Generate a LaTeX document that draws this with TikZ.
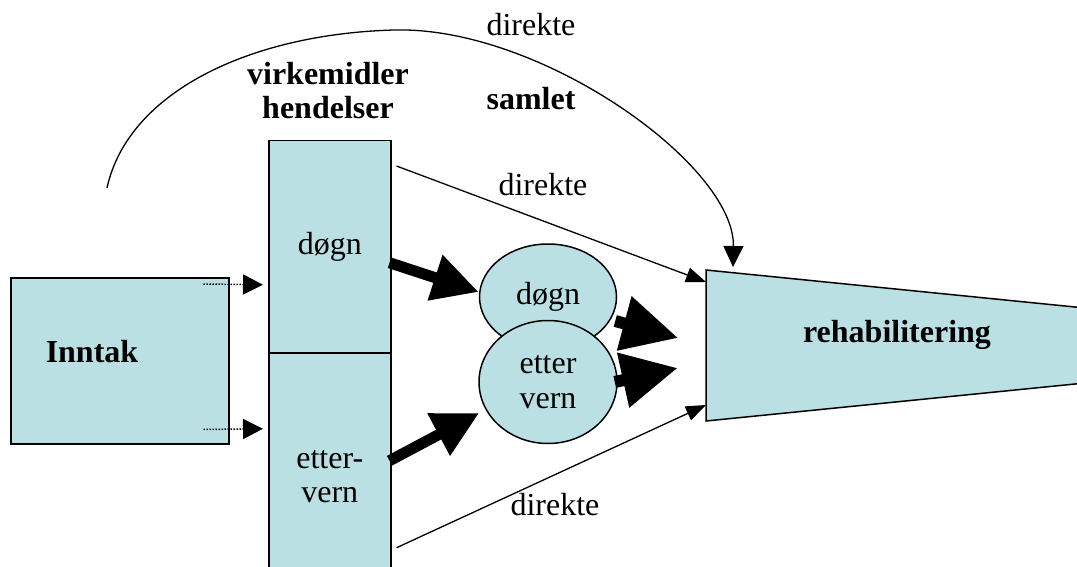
\documentclass[tikz,border=0pt]{standalone}
\usepackage{fontspec}
\setmainfont{LiberationSerif}[Extension=.ttf,UprightFont=*-Regular,BoldFont=*-Bold,ItalicFont=*-Italic,BoldItalicFont=*-BoldItalic]
\usetikzlibrary{arrows.meta,shapes.geometric,calc}
\definecolor{fillblue}{HTML}{BBE0E3}
\begin{document}
\begin{tikzpicture}[x=1pt,y=-1pt,
  box/.style={draw=black,line width=1.5pt,fill=fillblue,inner sep=0pt},
  lbl/.style={font=\fontsize{32}{34}\selectfont,align=center,inner sep=0pt},
  blbl/.style={font=\fontsize{32}{34}\selectfont\bfseries,align=center,inner sep=0pt},
  ell/.style={ellipse,draw=black,line width=1.5pt,fill=fillblue,inner sep=0pt,align=center,font=\fontsize{32}{35}\selectfont},
  thinarrow/.style={line width=1.3pt,-{Triangle[length=20pt,width=15pt]}},
  curvearrow/.style={line width=1.3pt,-{Triangle[length=21pt,width=20pt]}},
  dotarrow/.style={line width=1.5pt,dash pattern=on 1.5pt off 1.5pt,-{Triangle[length=20pt,width=20pt]}},
  thickarrow/.style={line width=11pt,-{Triangle[length=46pt,width=45pt]}},
  thickarrowb/.style={line width=12pt,-{Triangle[length=56pt,width=53pt]}},
]
\useasboundingbox (0,0) rectangle (1077,567);

% Inntak
\node[box,minimum width=218pt,minimum height=166pt,anchor=north west] (inntak) at (10,277) {};
\node[blbl] (inntaktxt) at (92,352) {Inntak};

% tall column
\node[box,lbl,minimum width=122pt,minimum height=212pt,anchor=north west] (dognbox) at (268,140) {døgn};
\node[box,lbl,minimum width=122pt,minimum height=248pt,anchor=north west] (etterbox) at (268,352) {etter-\\vern};

\node[blbl] (virk) at (328,91) {virkemidler\\hendelser};
\node[blbl] (samlet) at (531,99) {samlet};
\node[lbl] (dir1) at (531,25) {direkte};
\node[lbl] (dir2) at (543,185) {direkte};
\node[lbl] (dir3) at (555,505) {direkte};

% trapezoid
\coordinate (tl) at (706,270);
\coordinate (tr) at (1085,308);
\coordinate (br) at (1085,383);
\coordinate (bl) at (706,421);
\draw[box] (tl) -- (tr) -- (br) -- (bl) -- cycle;
\node[blbl] (rehab) at (897,335) {rehabilitering};

% ellipses
\node[ell,minimum width=137pt,minimum height=106pt] (dognell) at (548,297) {døgn};
\node[ell,minimum width=138pt,minimum height=123pt] (etterell) at (548,382) {etter\\vern};

% dotted arrows
\draw[dotarrow] ($(inntak.north east)+(-26,7)$) -- ($(dognbox.west)+(-5,38)$);
\draw[dotarrow] ($(inntak.south east)+(-26,-15)$) -- ($(etterbox.west)+(-5,-48)$);

% thick arrows
\draw[thickarrow] ($(dognbox.east)+(-2,16)$) -- ($(dognell.west)+(0,-5)$);
\draw[thickarrow] ($(etterbox.east)+(-2,-16)$) -- ($(etterell.west)+(1,31)$);
\draw[thickarrowb] ($(dognell.east)+(-2,24)$) -- ($(dognell.east)+(61,41)$);
\draw[thickarrowb] ($(etterell.east)+(-3,0)$) -- ($(etterell.east)+(60,-14)$);

% thin direct arrows
\draw[thinarrow] ($(dognbox.north east)+(5,26)$) -- ($(tl)+(0,12)$);
\draw[thinarrow] ($(etterbox.east)+(5,71)$) -- ($(bl)+(0,-16)$);

% curved arrow
\coordinate (cstart) at (107,188);
\coordinate (ctip) at (733,267);
\draw[curvearrow] (cstart) .. controls (128,92) and (250,34) .. (394,30)
  .. controls (540,26) and (735,165) .. (ctip);
\end{tikzpicture}
\end{document}
